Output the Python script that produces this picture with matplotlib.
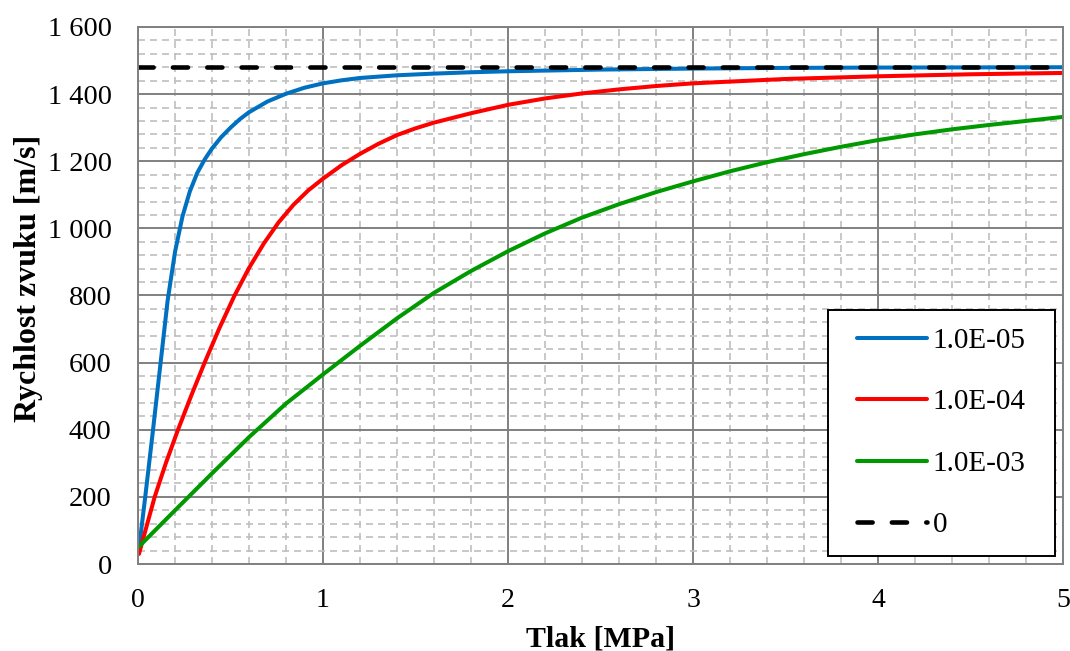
import matplotlib
matplotlib.use("Agg")
import matplotlib.pyplot as plt
from matplotlib.patches import Rectangle
from matplotlib.ticker import MultipleLocator, FuncFormatter

# values
p_blue = [0.005, 0.04, 0.08, 0.12, 0.16, 0.2, 0.24, 0.28, 0.32, 0.36, 0.4, 0.45, 0.5,
          0.55, 0.6, 0.7, 0.8, 0.9, 1.0, 1.1, 1.2, 1.4, 1.6, 1.8, 2.0, 2.5, 3.0, 3.5,
          4.0, 5.0]
c_blue = [45, 205, 395, 590, 785, 930, 1035, 1110, 1165, 1205, 1238, 1272, 1300,
          1325, 1346, 1378, 1401, 1419, 1432, 1441, 1448, 1456, 1461, 1465, 1468, 1473,
          1476, 1478, 1479, 1480]

p_red = [0.005, 0.09, 0.15, 0.216, 0.29, 0.36, 0.44, 0.52, 0.6, 0.68, 0.76, 0.84, 0.92,
         1.0, 1.1, 1.2, 1.3, 1.4, 1.5, 1.6, 1.8, 2.0, 2.2, 2.4, 2.6, 2.8, 3.0, 3.5,
         4.0, 4.5, 5.0]
c_red = [30, 200, 300, 400, 505, 600, 703, 798, 882, 955, 1018, 1070, 1113,
         1148, 1188, 1222, 1252, 1278, 1298, 1315, 1343, 1368, 1387, 1402, 1414, 1424,
         1432, 1445, 1453, 1459, 1463]

p_green = [0.005, 0.2, 0.4, 0.6, 0.8, 1.0, 1.2, 1.4, 1.6, 1.8, 2.0, 2.2, 2.4, 2.6,
           2.8, 3.0, 3.2, 3.4, 3.6, 3.8, 4.0, 4.2, 4.4, 4.6, 4.8, 5.0]
c_green = [52, 160, 270, 378, 478, 565, 650, 732, 808, 873, 932, 985, 1032, 1072,
           1108, 1140, 1170, 1197, 1221, 1243, 1263, 1280, 1295, 1308, 1320, 1332]

p_zero = [0.0, 5.0]
c_zero = [1480, 1480]

labels = ["1.0E-05", "1.0E-04", "1.0E-03", "0"]

plt.rcParams["font.family"] = ["Liberation Serif", "DejaVu Serif"]

fig = plt.figure(figsize=(10.7, 6.51), dpi=100)
ax = fig.add_axes([0.129, 0.1336, 0.8645, 0.825])

ax.plot(p_blue, c_blue, color="#0070C0", lw=2.9, label=labels[0], solid_capstyle="round")
ax.plot(p_red, c_red, color="#FF0000", lw=2.9, label=labels[1], solid_capstyle="round")
ax.plot(p_green, c_green, color="#009900", lw=2.9, label=labels[2], solid_capstyle="round")
ax.plot(p_zero, c_zero, color="black", lw=3.3, ls=(0, (3.3, 4.2)), dash_capstyle="round",
        label=labels[3])

ax.set_xlim(0, 5)
ax.set_ylim(0, 1600)
ax.xaxis.set_major_locator(MultipleLocator(1))
ax.xaxis.set_minor_locator(MultipleLocator(0.2))
ax.yaxis.set_major_locator(MultipleLocator(200))
ax.yaxis.set_minor_locator(MultipleLocator(40))
ax.yaxis.set_major_formatter(FuncFormatter(lambda v, pos: f"{int(v):,}".replace(",", " ")))

ax.grid(which="major", color="#808080", lw=1.4, ls="-")
ax.grid(which="minor", color="#BFBFBF", lw=1.2, ls=(0, (4.2, 3)))
ax.set_axisbelow(True)

for s in ax.spines.values():
    s.set_color("#808080")
    s.set_linewidth(1.4)

ax.tick_params(which="both", length=0)
ax.tick_params(axis="x", labelsize=20, pad=17)
ax.tick_params(axis="y", labelsize=20.5, pad=19)

ax.set_xlabel("Tlak [MPa]", fontsize=21.5, fontweight="bold", labelpad=9)
ax.set_ylabel("Rychlost zvuku [m/s]", fontsize=23, fontweight="bold")
ax.yaxis.set_label_coords(-0.103, 0.531)

# legend box (Excel style: wider side padding than top/bottom)
box_x0, box_x1, box_y0, box_y1 = 0.746, 0.991, 0.015, 0.473
ax.add_patch(Rectangle((box_x0, box_y0), box_x1 - box_x0, box_y1 - box_y0,
                       transform=ax.transAxes, facecolor="white", edgecolor="black",
                       lw=1.4, zorder=4.9, clip_on=False))
leg = ax.legend(loc="center", bbox_to_anchor=((box_x0 + box_x1) / 2, (box_y0 + box_y1) / 2),
                fontsize=21, frameon=False, handlelength=2.4, handletextpad=0.2,
                labelspacing=1.2, borderpad=0, borderaxespad=0)
leg.set_zorder(5)

fig.savefig("out.png", dpi=100)
